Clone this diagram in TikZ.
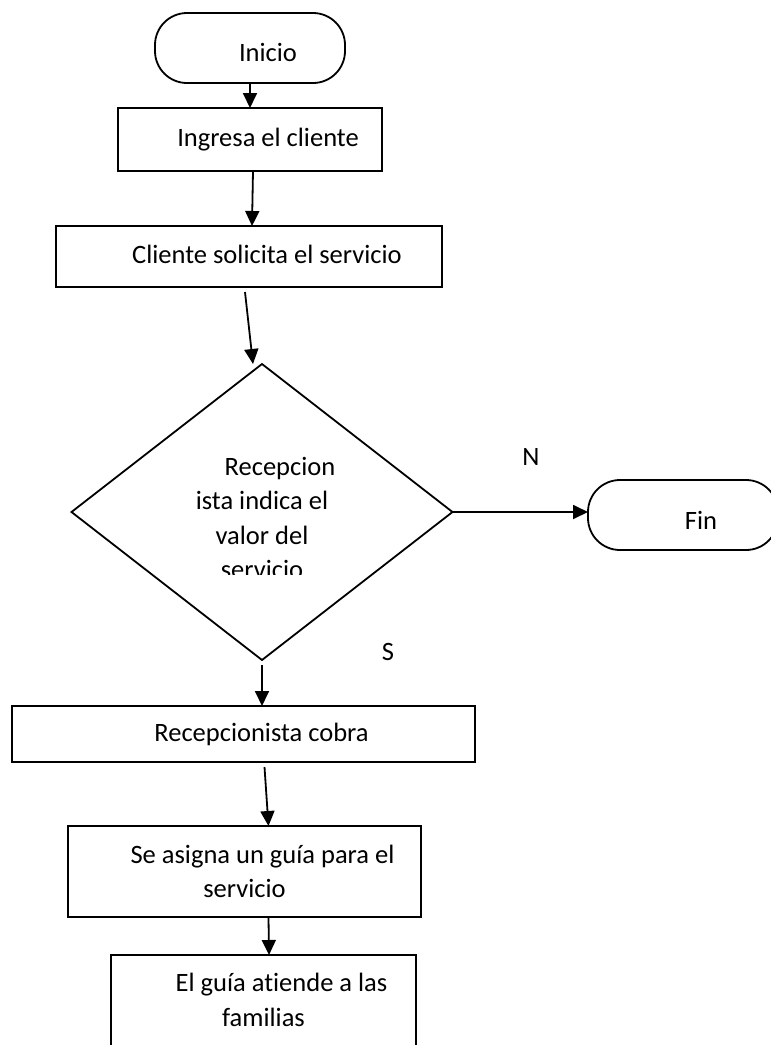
\documentclass[tikz,border=0pt]{standalone}
\usepackage{fontspec}
\setmainfont{Carlito}[Ligatures=NoCommon]
\usetikzlibrary{arrows.meta,shapes.geometric}
\newcommand{\ind}{\hspace*{36pt}}
\begin{document}
\begin{tikzpicture}[x=1pt,y=-1pt,font=\fontsize{26.5}{34.5}\selectfont,
  term/.style={draw, line width=1.8pt, rounded corners=32pt, minimum width=190pt, minimum height=70pt, text height=28pt, outer sep=0pt},
  proc/.style={draw, line width=2.5pt, outer sep=0pt},
  uno/.style={text height=20pt, text depth=6pt},
  dos/.style={align=flush center},
  flecha/.style={line width=1.8pt, -{Triangle[length=15pt,width=14pt]}}]
\useasboundingbox (0,0) rectangle (771,1045);
% cajas
\node[term] (inicio) at (250,48) {\ind Inicio};
\node[proc, uno, minimum width=264pt, minimum height=63pt] (ingresa) at (250,139.5) {\ind Ingresa el cliente};
\node[proc, uno, minimum width=386pt, minimum height=61pt] (cliente) at (249,256.5) {\ind Cliente solicita el servicio};
\node[draw, diamond, line width=1.8pt, minimum width=381pt, minimum height=296pt, inner sep=0pt, outer sep=0pt] (valor) at (262,512) {};
\begin{scope}
\clip (0,0) rectangle (771,574);
\node[dos, anchor=base, text width=220pt, inner sep=0pt] (valortxt) at (262,475) {\ind Recepcion\\ista indica el\\valor del\\servicio};
\end{scope}
\node[term] (fin) at (683,515) {\ind Fin};
\node (txtN) at (531,457) {N};
\node (txtS) at (388,652) {S};
\node[proc, uno, minimum width=463pt, minimum height=56pt] (cobra) at (243.5,734) {\ind Recepcionista cobra};
\node[proc, dos, text width=320pt, minimum width=353pt, minimum height=91pt] (asigna) at (244.5,871.5) {\ind Se asigna un guía para el\\servicio};
\node[proc, dos, text width=280pt, text depth=46.5pt, minimum width=305pt, minimum height=102pt] (guia) at (263.5,1006) {\ind El guía atiende a las\\familias};
% flechas
\draw[flecha] (inicio.south) -- (ingresa.north);
\draw[flecha] ([xshift=3pt]ingresa.south) -- ([xshift=3pt]cliente.north);
\draw[flecha] ([xshift=-4pt,yshift=-5pt]cliente.south) -- ([xshift=-9pt]valor.north);
\draw[flecha] (valor.east) -- ([yshift=3pt]fin.west);
\draw[flecha] ([yshift=-5pt]valor.south) -- (valor.south |- cobra.north);
\draw[flecha] ([xshift=21pt,yshift=-5pt]cobra.south) -- ([xshift=24pt]asigna.north);
\draw[flecha] ([xshift=24pt]asigna.south) -- ([xshift=5.5pt]guia.north);
\end{tikzpicture}
\end{document}
